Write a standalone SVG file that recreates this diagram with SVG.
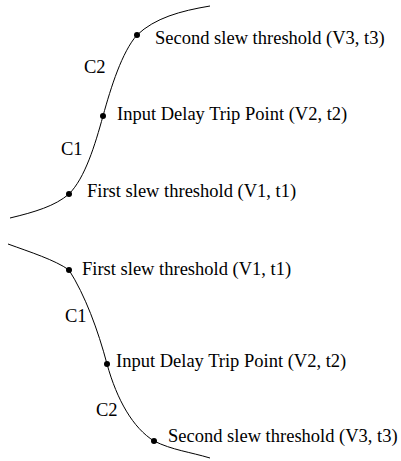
<svg xmlns="http://www.w3.org/2000/svg" width="401" height="461" viewBox="0 0 401 461">
<style>
.c{fill:none;stroke:#000;stroke-width:1}
.d{fill:#000}
text{font-family:"Liberation Serif","Times New Roman",serif;font-size:18.5px;fill:#000}
</style>
<rect width="401" height="461" fill="#fff"/>
<g id="connectors">
<path class="c" d="M10,218 C35,212 55,206 69,194 C85,178 95,145 103,116 C111,87 122,52 137,35 C155,18 180,11 210,6"/>
<path class="c" d="M8,244 C30,252 55,260 69,270 C85,295 98,330 107,364 C117,400 133,428 154,441 C172,450 190,452 210,458"/>
</g>
<g id="top-v1"><circle class="d" cx="69" cy="194" r="3"/><text x="87" y="197">First slew threshold (V1, t1)</text></g>
<g id="top-v2"><circle class="d" cx="103" cy="116" r="3"/><text x="117" y="120">Input Delay Trip Point (V2, t2)</text></g>
<g id="top-v3"><circle class="d" cx="137" cy="35" r="3"/><text x="155" y="44">Second slew threshold (V3, t3)</text></g>
<g id="top-c1"><text x="61" y="155">C1</text></g>
<g id="top-c2"><text x="84" y="73">C2</text></g>
<g id="bot-v1"><circle class="d" cx="69" cy="270" r="3"/><text x="82" y="275">First slew threshold (V1, t1)</text></g>
<g id="bot-v2"><circle class="d" cx="107" cy="364" r="3"/><text x="116" y="367">Input Delay Trip Point (V2, t2)</text></g>
<g id="bot-v3"><circle class="d" cx="154" cy="441" r="3"/><text x="168" y="442">Second slew threshold (V3, t3)</text></g>
<g id="bot-c1"><text x="65" y="322">C1</text></g>
<g id="bot-c2"><text x="96" y="416">C2</text></g>
</svg>
